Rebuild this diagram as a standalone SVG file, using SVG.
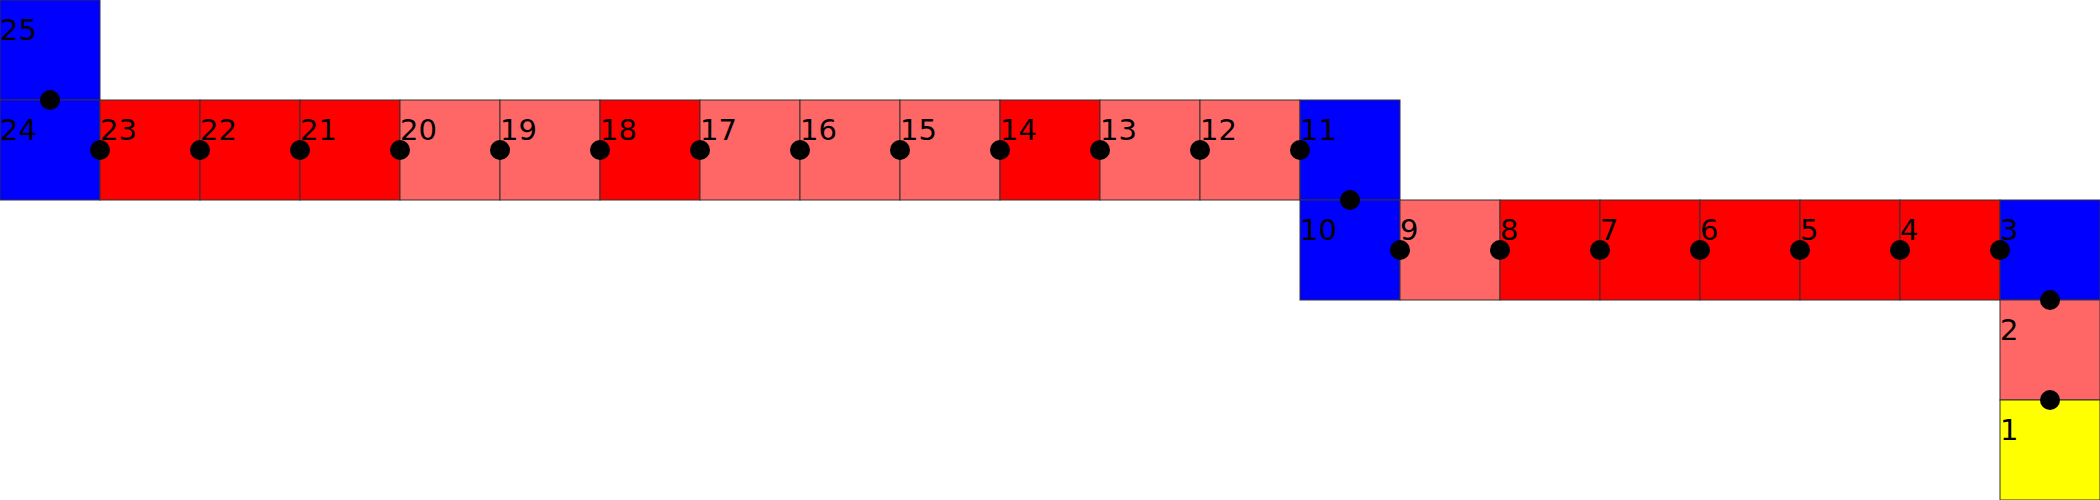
<svg xmlns="http://www.w3.org/2000/svg" width="2100" height="500" viewBox="0 0 2100 500">
<style>
.c{stroke:#333;stroke-width:1}
.b{fill:#0000ff}.r{fill:#ff0000}.l{fill:#ff6666}.y{fill:#ffff00}
text{font-family:"DejaVu Sans",sans-serif;font-size:29px;fill:#000}
.dot{fill:#000}
</style>
<g id="cell25"><rect class="c b" x="0" y="0" width="100" height="100"/><text x="0" y="40">25</text></g>
<g id="cell24"><rect class="c b" x="0" y="100" width="100" height="100"/><text x="0" y="140">24</text></g>
<g id="cell23"><rect class="c r" x="100" y="100" width="100" height="100"/><text x="100" y="140">23</text></g>
<g id="cell22"><rect class="c r" x="200" y="100" width="100" height="100"/><text x="200" y="140">22</text></g>
<g id="cell21"><rect class="c r" x="300" y="100" width="100" height="100"/><text x="300" y="140">21</text></g>
<g id="cell20"><rect class="c l" x="400" y="100" width="100" height="100"/><text x="400" y="140">20</text></g>
<g id="cell19"><rect class="c l" x="500" y="100" width="100" height="100"/><text x="500" y="140">19</text></g>
<g id="cell18"><rect class="c r" x="600" y="100" width="100" height="100"/><text x="600" y="140">18</text></g>
<g id="cell17"><rect class="c l" x="700" y="100" width="100" height="100"/><text x="700" y="140">17</text></g>
<g id="cell16"><rect class="c l" x="800" y="100" width="100" height="100"/><text x="800" y="140">16</text></g>
<g id="cell15"><rect class="c l" x="900" y="100" width="100" height="100"/><text x="900" y="140">15</text></g>
<g id="cell14"><rect class="c r" x="1000" y="100" width="100" height="100"/><text x="1000" y="140">14</text></g>
<g id="cell13"><rect class="c l" x="1100" y="100" width="100" height="100"/><text x="1100" y="140">13</text></g>
<g id="cell12"><rect class="c l" x="1200" y="100" width="100" height="100"/><text x="1200" y="140">12</text></g>
<g id="cell11"><rect class="c b" x="1300" y="100" width="100" height="100"/><text x="1300" y="140">11</text></g>
<g id="cell10"><rect class="c b" x="1300" y="200" width="100" height="100"/><text x="1300" y="240">10</text></g>
<g id="cell9"><rect class="c l" x="1400" y="200" width="100" height="100"/><text x="1400" y="240">9</text></g>
<g id="cell8"><rect class="c r" x="1500" y="200" width="100" height="100"/><text x="1500" y="240">8</text></g>
<g id="cell7"><rect class="c r" x="1600" y="200" width="100" height="100"/><text x="1600" y="240">7</text></g>
<g id="cell6"><rect class="c r" x="1700" y="200" width="100" height="100"/><text x="1700" y="240">6</text></g>
<g id="cell5"><rect class="c r" x="1800" y="200" width="100" height="100"/><text x="1800" y="240">5</text></g>
<g id="cell4"><rect class="c r" x="1900" y="200" width="100" height="100"/><text x="1900" y="240">4</text></g>
<g id="cell3"><rect class="c b" x="2000" y="200" width="100" height="100"/><text x="2000" y="240">3</text></g>
<g id="cell2"><rect class="c l" x="2000" y="300" width="100" height="100"/><text x="2000" y="340">2</text></g>
<g id="cell1"><rect class="c y" x="2000" y="400" width="100" height="100"/><text x="2000" y="440">1</text></g>
<g id="connectors">
<circle class="dot" cx="2050" cy="400" r="10"/>
<circle class="dot" cx="2050" cy="300" r="10"/>
<circle class="dot" cx="2000" cy="250" r="10"/>
<circle class="dot" cx="1900" cy="250" r="10"/>
<circle class="dot" cx="1800" cy="250" r="10"/>
<circle class="dot" cx="1700" cy="250" r="10"/>
<circle class="dot" cx="1600" cy="250" r="10"/>
<circle class="dot" cx="1500" cy="250" r="10"/>
<circle class="dot" cx="1400" cy="250" r="10"/>
<circle class="dot" cx="1350" cy="200" r="10"/>
<circle class="dot" cx="1300" cy="150" r="10"/>
<circle class="dot" cx="1200" cy="150" r="10"/>
<circle class="dot" cx="1100" cy="150" r="10"/>
<circle class="dot" cx="1000" cy="150" r="10"/>
<circle class="dot" cx="900" cy="150" r="10"/>
<circle class="dot" cx="800" cy="150" r="10"/>
<circle class="dot" cx="700" cy="150" r="10"/>
<circle class="dot" cx="600" cy="150" r="10"/>
<circle class="dot" cx="500" cy="150" r="10"/>
<circle class="dot" cx="400" cy="150" r="10"/>
<circle class="dot" cx="300" cy="150" r="10"/>
<circle class="dot" cx="200" cy="150" r="10"/>
<circle class="dot" cx="100" cy="150" r="10"/>
<circle class="dot" cx="50" cy="100" r="10"/>
</g>
</svg>
